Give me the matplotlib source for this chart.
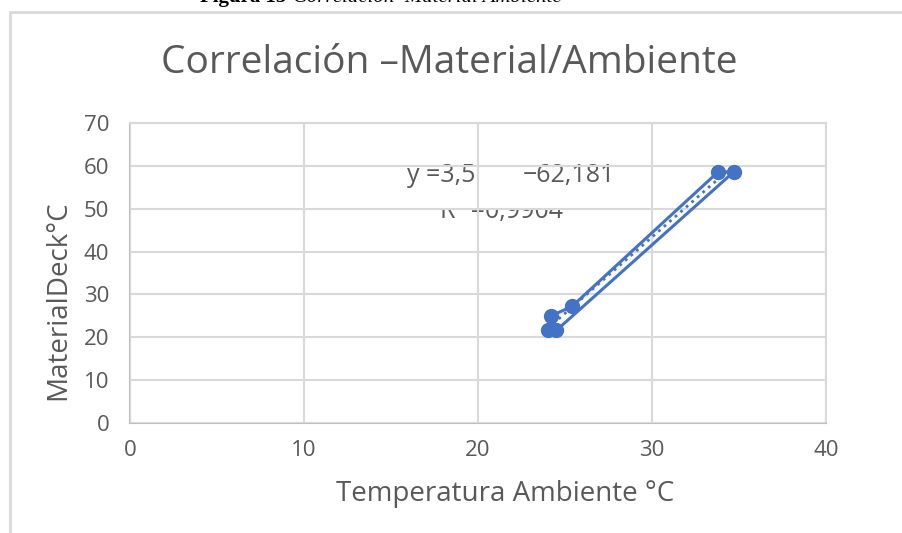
import numpy as np
import matplotlib.pyplot as plt
from matplotlib.patches import Rectangle

# Data (ambient temp vs deck material temp), in plotted order
temp_ambiente = [24.2, 25.4, 33.8, 34.7, 24.5, 24.0]
temp_material = [25.0, 27.2, 58.6, 58.6, 21.6, 21.6]

x_ticks = [0, 10, 20, 30, 40]
y_ticks = [0, 10, 20, 30, 40, 50, 60, 70]

blue = '#4472C4'
grey_txt = '#595959'
grid_col = '#D9D9D9'

plt.rcParams['font.family'] = ['Open Sans', 'DejaVu Sans']

fig = plt.figure(figsize=(9.03, 5.33), dpi=100)
ax = fig.add_axes([130 / 903, 110 / 533, 696 / 903, 300 / 533])

# chart frame (cut off at right and bottom in the original)
fig.patches.append(Rectangle((10 / 903, -0.2), 1.2, 1.2 - 12 / 533,
                             transform=fig.transFigure, fill=False,
                             edgecolor=grid_col, linewidth=2))

# caption from the document, mostly cut off above the picture
cap_y = 1 - 2 / 533
fig.text(0.222, cap_y, 'Figura 15', family='Liberation Serif',
         fontweight='bold', fontsize=15, ha='left', va='baseline', color='black')
fig.text(0.325, cap_y, 'Correlación  Material Ambiente', family='Liberation Serif',
         style='italic', fontsize=15, ha='left', va='baseline', color='black')

ax.plot(temp_ambiente, temp_material, color=blue, linewidth=2.2,
        marker='o', markersize=10, zorder=3)

# linear trendline
coef = np.polyfit(temp_ambiente, temp_material, 1)
xs = np.array([min(temp_ambiente), max(temp_ambiente)])
ax.plot(xs, np.polyval(coef, xs), color=blue, linestyle=':', linewidth=2, zorder=3)

# trendline label (partly hidden as in the original)
ax.text(15.9, 57.7, 'y =3,5', fontsize=18, color=grey_txt, zorder=1, va='center')
ax.text(22.6, 57.7, '−62,181', fontsize=18, color=grey_txt, zorder=1, va='center')
ax.text(17.8, 49.3, 'R² =0,9904', fontsize=18, color=grey_txt, zorder=1, va='center')
ax.add_patch(Rectangle((16.5, 50.0), 11, 4.2, facecolor='white', edgecolor='none', zorder=1.5))
ax.add_patch(Rectangle((20.0, 50.0), 2.55, 9.6, facecolor='white', edgecolor='none', zorder=1.5))

ax.set_xlim(0, 40)
ax.set_ylim(0, 70)
ax.set_xticks(x_ticks)
ax.set_yticks(y_ticks)
ax.set_axisbelow(False)
ax.grid(True, color=grid_col, linewidth=1.5)
for s in ax.spines.values():
    s.set_color(grid_col)
    s.set_linewidth(1.5)
ax.spines['left'].set_color('#BFBFBF')
ax.spines['bottom'].set_color('#BFBFBF')
ax.tick_params(length=0, labelsize=16, labelcolor=grey_txt)
ax.tick_params(axis='y', pad=15)
ax.tick_params(axis='x', pad=12)

ax.set_title('Correlación –Material/Ambiente', fontsize=28, color=grey_txt,
             x=(449 - 130) / 696, pad=36)
ax.set_xlabel('Temperatura Ambiente °C', fontsize=20, color=grey_txt)
ax.set_ylabel('MaterialDeck°C', fontsize=20, color=grey_txt)
ax.xaxis.set_label_coords((505 - 130) / 696, -0.19)
ax.yaxis.set_label_coords(-0.083, 0.41)

plt.savefig('out.png', dpi=100)
